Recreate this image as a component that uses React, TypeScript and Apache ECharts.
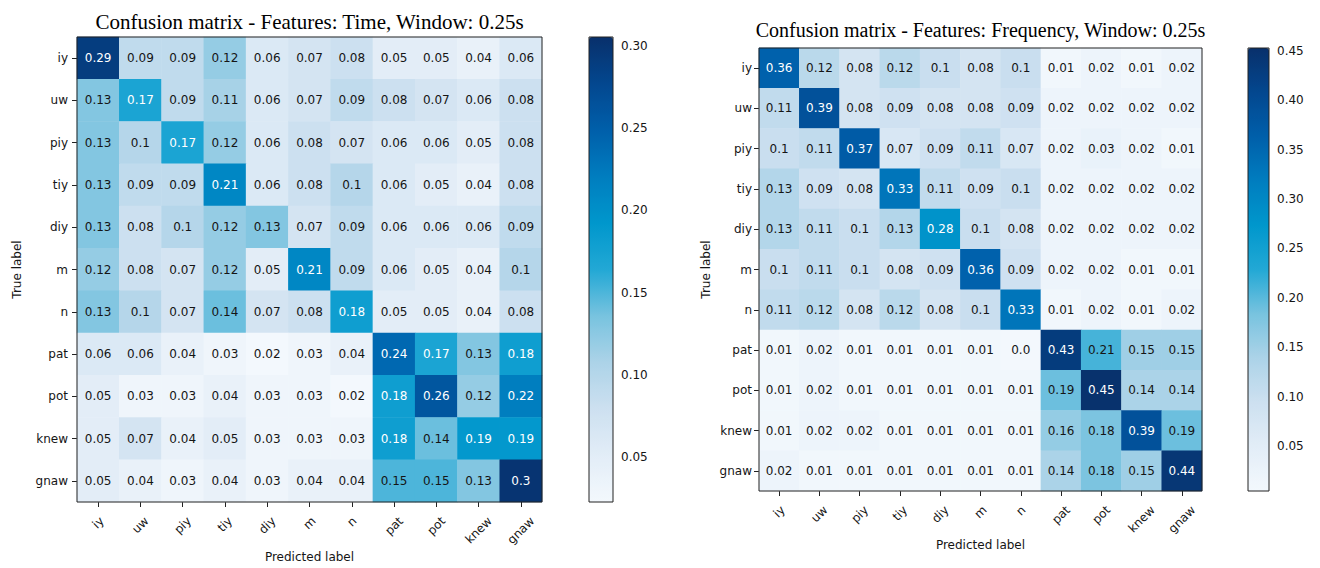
import React, { useEffect, useRef } from "react";
import * as echarts from "echarts";

// Phoneme classes, shared by both confusion matrices (rows: true, columns: predicted)
const classes = ["iy", "uw", "piy", "tiy", "diy", "m", "n", "pat", "pot", "knew", "gnaw"];

// Normalised confusion matrix, time-domain features, 0.25 s window
const timeMatrix = [
  [0.29, 0.09, 0.09, 0.12, 0.06, 0.07, 0.08, 0.05, 0.05, 0.04, 0.06],
  [0.13, 0.17, 0.09, 0.11, 0.06, 0.07, 0.09, 0.08, 0.07, 0.06, 0.08],
  [0.13, 0.1, 0.17, 0.12, 0.06, 0.08, 0.07, 0.06, 0.06, 0.05, 0.08],
  [0.13, 0.09, 0.09, 0.21, 0.06, 0.08, 0.1, 0.06, 0.05, 0.04, 0.08],
  [0.13, 0.08, 0.1, 0.12, 0.13, 0.07, 0.09, 0.06, 0.06, 0.06, 0.09],
  [0.12, 0.08, 0.07, 0.12, 0.05, 0.21, 0.09, 0.06, 0.05, 0.04, 0.1],
  [0.13, 0.1, 0.07, 0.14, 0.07, 0.08, 0.18, 0.05, 0.05, 0.04, 0.08],
  [0.06, 0.06, 0.04, 0.03, 0.02, 0.03, 0.04, 0.24, 0.17, 0.13, 0.18],
  [0.05, 0.03, 0.03, 0.04, 0.03, 0.03, 0.02, 0.18, 0.26, 0.12, 0.22],
  [0.05, 0.07, 0.04, 0.05, 0.03, 0.03, 0.03, 0.18, 0.14, 0.19, 0.19],
  [0.05, 0.04, 0.03, 0.04, 0.03, 0.04, 0.04, 0.15, 0.15, 0.13, 0.3],
];

// Normalised confusion matrix, frequency-domain features, 0.25 s window
const freqMatrix = [
  [0.36, 0.12, 0.08, 0.12, 0.1, 0.08, 0.1, 0.01, 0.02, 0.01, 0.02],
  [0.11, 0.39, 0.08, 0.09, 0.08, 0.08, 0.09, 0.02, 0.02, 0.02, 0.02],
  [0.1, 0.11, 0.37, 0.07, 0.09, 0.11, 0.07, 0.02, 0.03, 0.02, 0.01],
  [0.13, 0.09, 0.08, 0.33, 0.11, 0.09, 0.1, 0.02, 0.02, 0.02, 0.02],
  [0.13, 0.11, 0.1, 0.13, 0.28, 0.1, 0.08, 0.02, 0.02, 0.02, 0.02],
  [0.1, 0.11, 0.1, 0.08, 0.09, 0.36, 0.09, 0.02, 0.02, 0.01, 0.01],
  [0.11, 0.12, 0.08, 0.12, 0.08, 0.1, 0.33, 0.01, 0.02, 0.01, 0.02],
  [0.01, 0.02, 0.01, 0.01, 0.01, 0.01, 0.0, 0.43, 0.21, 0.15, 0.15],
  [0.01, 0.02, 0.01, 0.01, 0.01, 0.01, 0.01, 0.19, 0.45, 0.14, 0.14],
  [0.01, 0.02, 0.02, 0.01, 0.01, 0.01, 0.01, 0.16, 0.18, 0.39, 0.19],
  [0.02, 0.01, 0.01, 0.01, 0.01, 0.01, 0.01, 0.14, 0.18, 0.15, 0.44],
];

// Colour-bar ranges and tick values
const timeRange = [0.0226, 0.3055];
const freqRange = [0.0044, 0.453];
const timeTicks = [0.05, 0.1, 0.15, 0.2, 0.25, 0.3];
const freqTicks = [0.05, 0.1, 0.15, 0.2, 0.25, 0.3, 0.35, 0.4, 0.45];

const timeTitle = "Confusion matrix - Features: Time, Window: 0.25s";
const freqTitle = "Confusion matrix - Features: Frequency, Window: 0.25s";

// Blues-like colour map, light to dark
const blues = [
  "#f3f8fd", "#e2edf7", "#cde0f0", "#acd3e8", "#78c3df", "#22a8d5",
  "#0097cc", "#007dbf", "#005faa", "#03478f", "#08306b",
];

const SANS = "DejaVu Sans";
const SERIF = "Liberation Serif";
const INK = "#151515";

const fmtCell = (v: number) => (Number.isInteger(v) ? v.toFixed(1) : String(v));

function measure(text: string, font: string): number {
  const ctx = document.createElement("canvas").getContext("2d");
  if (!ctx) return text.length * 7;
  ctx.font = font;
  return ctx.measureText(text).width;
}

type Panel = {
  matrix: number[][];
  range: number[];
  ticks: number[];
  title: string;
  titleSize: number;
  titleY: number;
  plot: { left: number; top: number; size: number };
  bar: { left: number; width: number };
  yLabelX: number;
  xNameY: number;
  yMargin: number;
};

const panels: Panel[] = [
  {
    matrix: timeMatrix, range: timeRange, ticks: timeTicks, title: timeTitle,
    titleSize: 21, titleY: 22,
    plot: { left: 77, top: 37, size: 465 },
    bar: { left: 589, width: 24 },
    yLabelX: 17, xNameY: 557, yMargin: 9,
  },
  {
    matrix: freqMatrix, range: freqRange, ticks: freqTicks, title: freqTitle,
    titleSize: 20, titleY: 30,
    plot: { left: 759, top: 48, size: 443 },
    bar: { left: 1248, width: 21 },
    yLabelX: 706, xNameY: 545, yMargin: 7,
  },
];

function buildOption() {
  const font = `12px "${SANS}"`;
  const widths = classes.map((c) => measure(c, font));
  const wMin = Math.min(...widths);
  // rotated x labels: centre each label's bounding box under its tick
  const xRich: Record<string, any> = {};
  classes.forEach((c, i) => {
    const p = 0.5 * (widths[i] - wMin);
    xRich["t" + i] = {
      fontFamily: SANS, fontSize: 12, color: INK, padding: [p, p, 0, 0],
    };
  });
  const xMargin = 12 + 0.354 * (wMin + 14);

  const grid: any[] = [];
  const xAxis: any[] = [];
  const yAxis: any[] = [];
  const series: any[] = [];
  const visualMap: any[] = [];
  const graphic: any[] = [];

  panels.forEach((pn, k) => {
    const gHeat = k * 2;
    const gBar = k * 2 + 1;
    const thresh = pn.range[1] / 2;

    grid.push({
      left: pn.plot.left, top: pn.plot.top, width: pn.plot.size, height: pn.plot.size,
      show: true, z: 3, borderColor: "#222", borderWidth: 1, backgroundColor: "transparent",
    });
    grid.push({
      left: pn.bar.left, top: pn.plot.top, width: pn.bar.width, height: pn.plot.size,
      show: true, z: 10, borderColor: "#222", borderWidth: 1, backgroundColor: "transparent",
    });

    xAxis.push({
      type: "category", gridIndex: gHeat, data: classes, position: "bottom",
      axisLine: { show: false },
      axisTick: { show: true, alignWithLabel: true, length: 5, lineStyle: { color: "#222" } },
      axisLabel: {
        rotate: 45, align: "center", verticalAlign: "middle", margin: xMargin,
        interval: 0, formatter: (v: string, i: number) => `{t${i}|${v}}`, rich: xRich,
      },
      splitLine: { show: false },
    });
    xAxis.push({ type: "value", gridIndex: gBar, min: 0, max: 1, show: false });

    yAxis.push({
      type: "category", gridIndex: gHeat, data: classes, inverse: true,
      axisLine: { show: false },
      axisTick: { show: true, alignWithLabel: true, length: 5, lineStyle: { color: "#222" } },
      axisLabel: { interval: 0, margin: pn.yMargin, fontFamily: SANS, fontSize: 12, color: INK },
      splitLine: { show: false },
    });
    yAxis.push({
      type: "value", gridIndex: gBar, min: pn.range[0], max: pn.range[1], position: "right",
      axisLine: { show: false },
      axisTick: { show: true, length: 5, customValues: pn.ticks, lineStyle: { color: "#222" } },
      axisLabel: {
        customValues: pn.ticks, margin: 8, fontFamily: SANS, fontSize: 12, color: INK,
        formatter: (v: number) => v.toFixed(2),
      },
      splitLine: { show: false },
    });

    const data: any[] = [];
    pn.matrix.forEach((row, r) =>
      row.forEach((v, c) => {
        data.push({
          value: [c, r, v],
          label: { color: v > thresh ? "#ffffff" : INK },
        });
      })
    );

    series.push({
      type: "heatmap", xAxisIndex: gHeat, yAxisIndex: gHeat, data,
      label: {
        show: true, fontFamily: SANS, fontSize: 12,
        formatter: (p: any) => fmtCell(p.value[2]),
      },
      itemStyle: { borderWidth: 0 },
      emphasis: { disabled: true },
    });
    series.push({ type: "scatter", xAxisIndex: gBar, yAxisIndex: gBar, data: [], silent: true });

    visualMap.push({
      type: "continuous", seriesIndex: k * 2, min: pn.range[0], max: pn.range[1],
      calculable: false, hoverLink: false, orient: "vertical",
      left: pn.bar.left, top: pn.plot.top, padding: 0,
      itemWidth: pn.bar.width, itemHeight: pn.plot.size,
      inRange: { color: blues },
    });

    const cx = pn.plot.left + pn.plot.size / 2;
    const cy = pn.plot.top + pn.plot.size / 2;
    graphic.push({
      type: "text", x: cx, y: pn.titleY, silent: true,
      style: {
        text: pn.title, fill: "#000", align: "center", verticalAlign: "middle",
        font: `${pn.titleSize}px "${SERIF}"`,
      },
    });
    graphic.push({
      type: "text", x: cx, y: pn.xNameY, silent: true,
      style: {
        text: "Predicted label", fill: INK, align: "center", verticalAlign: "middle",
        font: `12px "${SANS}"`,
      },
    });
    graphic.push({
      type: "text", x: pn.yLabelX, y: cy, rotation: Math.PI / 2, silent: true,
      style: {
        text: "True label", fill: INK, align: "center", verticalAlign: "middle",
        font: `12px "${SANS}"`,
      },
    });
  });

  return {
    animation: false,
    backgroundColor: "#ffffff",
    grid, xAxis, yAxis, series, visualMap, graphic,
  };
}

export default function App() {
  const ref = useRef<HTMLDivElement>(null);
  useEffect(() => {
    if (!ref.current) return;
    const chart = echarts.init(ref.current, undefined, { renderer: "svg" });
    chart.setOption(buildOption());
    return () => chart.dispose();
  }, []);
  return (
    <div
      ref={ref}
      style={{ position: "fixed", left: 0, top: 0, width: 1320, height: 568, background: "#fff" }}
    />
  );
}
